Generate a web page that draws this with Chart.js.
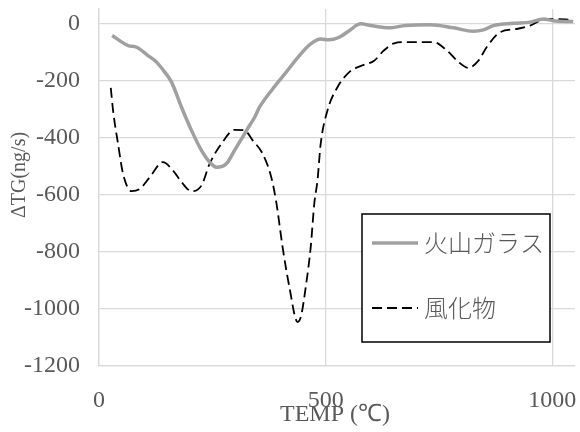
<!DOCTYPE html>
<html>
<head>
<meta charset="utf-8">
<script src="https://cdn.jsdelivr.net/npm/chart.js@4.4.0/dist/chart.umd.min.js"></script>
<style>html,body{margin:0;padding:0;background:#fff}</style>
</head>
<body>
<canvas id="chartTG" width="580" height="432"></canvas>
<script>
/* ---- dados ---- */
var GLASS_T = [29, 64, 83, 108, 127, 145, 160, 182, 204, 226, 244, 259, 281, 299, 321, 332, 343, 354, 383, 413, 442, 467, 489, 508, 530, 552, 577, 603, 640, 676, 731, 782, 826, 848, 870, 914, 951, 980, 1002, 1046];
var GLASS_V = [-43, -78, -84, -113, -136, -171, -206, -294, -375, -445, -486, -504, -492, -445, -387, -358, -330, -294, -230, -171, -113, -72, -55, -58, -49, -26, -2, -9, -16, -8, -5, -16, -28, -23, -8, 0, 4, 15, 9, 6];

var WEATH_T = [26, 31, 42, 53, 72, 90, 112, 141, 163, 182, 204, 226, 244, 270, 299, 321, 339, 361, 380, 391, 405, 420, 438, 446, 456, 467, 475, 482, 489, 504, 526, 552, 580, 607, 628, 651, 676, 738, 768, 790, 815, 837, 855, 885, 921, 951, 973, 995, 1046];
var WEATH_V = [-226, -305, -422, -527, -588, -580, -539, -486, -515, -556, -588, -568, -492, -422, -373, -375, -410, -457, -539, -626, -784, -924, -1046, -1023, -924, -784, -630, -550, -422, -305, -224, -171, -148, -131, -96, -70, -66, -66, -96, -131, -156, -131, -84, -31, -20, -8, 9, 15, 12];

var X_TICKS = [0, 500, 1000];
var Y_TICKS = [-1200, -1000, -800, -600, -400, -200, 0];
var SERIES_NAMES = ['火山ガラス', '風化物'];
var X_TITLE = 'TEMP (℃)';
var Y_TITLE = 'ΔTG(ng/s)';

var SERIF = '"Liberation Serif", "Times New Roman", serif';
var JP    = '"Noto Sans CJK JP", sans-serif';
var TXT   = '#595959';
var GRID  = '#d9d9d9';

function pts(xs, ys) { return xs.map(function(x, i) { return { x: x, y: ys[i] }; }); }
function fixTicks(list) { return function(s) { s.ticks = list.map(function(v) { return { value: v }; }); }; }
function plain(v) { return String(v); }

/* ---- títulos e legenda desenhados à mão ---- */
var extras = {
    id: 'extras',
    afterDraw: function(chart) {
        var c = chart.ctx;
        var ds = chart.data.datasets;
        c.save();
        c.fillStyle = TXT;
        c.textAlign = 'center'; c.textBaseline = 'middle';
        c.font = '24px ' + SERIF;
        c.fillText(X_TITLE, 335, 415);
        c.translate(20, 175); c.rotate(-Math.PI / 2);
        c.font = '20px ' + SERIF;
        c.fillText(Y_TITLE, 0, 0);
        c.restore();

        c.save();
        c.fillStyle = '#fff';
        c.fillRect(362, 214, 188, 128);
        c.strokeStyle = '#000'; c.lineWidth = 1.5;
        c.strokeRect(362, 214, 188, 128);
        var rows = [243, 308];
        ds.forEach(function(d, i) {
            c.beginPath();
            c.strokeStyle = d.borderColor; c.lineWidth = d.borderWidth;
            c.setLineDash(d.borderDash || []);
            c.moveTo(372, rows[i]); c.lineTo(418, rows[i]);
            c.stroke();
            c.setLineDash([]);
            c.fillStyle = TXT;
            c.font = '300 24px ' + JP;
            c.textAlign = 'left'; c.textBaseline = 'middle';
            c.fillText(d.label, 424, rows[i]);
        });
        c.restore();
    }
};

Chart.defaults.font.family = SERIF;

new Chart(document.getElementById('chartTG'), {
    type: 'scatter',
    data: {
        datasets: [{
            label: SERIES_NAMES[0],
            data: pts(GLASS_T, GLASS_V),
            showLine: true, borderColor: '#a0a0a0', borderWidth: 3.5,
            pointRadius: 0, cubicInterpolationMode: 'monotone'
        }, {
            label: SERIES_NAMES[1],
            data: pts(WEATH_T, WEATH_V),
            showLine: true, borderColor: '#000', borderWidth: 1.8, borderDash: [10, 5],
            pointRadius: 0, cubicInterpolationMode: 'monotone'
        }]
    },
    options: {
        responsive: false, animation: false,
        layout: { padding: { top: 9, right: 5, left: 0, bottom: 0 } },
        plugins: { legend: { display: false }, tooltip: { enabled: false } },
        scales: {
            x: {
                type: 'linear', min: 0, max: 1050,
                afterBuildTicks: fixTicks(X_TICKS),
                afterFit: function(s) { s.height = 66; s.paddingLeft = 0; s.paddingRight = 0; },
                grid: { color: GRID, lineWidth: 1.3, drawTicks: false },
                border: { color: GRID, width: 1.3 },
                ticks: { padding: 20, color: TXT, font: { size: 24 }, maxRotation: 0, autoSkip: false, callback: plain }
            },
            y: {
                min: -1200, max: 50,
                afterBuildTicks: fixTicks(Y_TICKS),
                afterFit: function(s) { s.width = 99; s.paddingTop = 0; s.paddingBottom = 0; },
                grid: { color: GRID, lineWidth: 1.3, drawTicks: false },
                border: { color: GRID, width: 1.3 },
                ticks: { padding: 19, color: TXT, font: { size: 24 }, autoSkip: false, callback: plain }
            }
        }
    },
    plugins: [extras]
});
</script>
</body>
</html>
